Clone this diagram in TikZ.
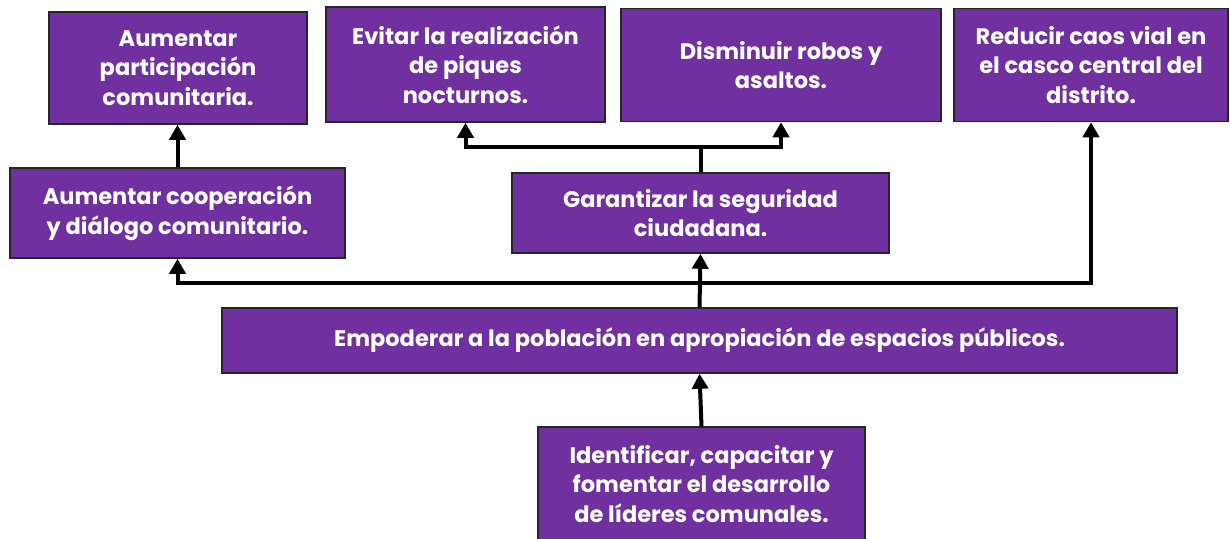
\documentclass[tikz,border=0pt]{standalone}
\usepackage{fontspec}
\setmainfont{Poppins}
\definecolor{colbox}{RGB}{112,48,160}
\usetikzlibrary{
	arrows.meta
}
\tikzset{
	>={Triangle[width=16pt,length=15pt]},
	goalnode/.style={draw=black!85, line width=1.5pt, fill=colbox, text=white, align=center, inner sep=0pt,
		font=\bfseries\fontsize{22.5}{29.5}\selectfont},
	goaledge/.style={->, line width=4pt}
}

\begin{document}
\begin{tikzpicture}[x=1pt, y=-1pt]
	\useasboundingbox (0,0) rectangle (1230,538);
	\node[goalnode, minimum width=258pt, minimum height=112pt] (partic) at (178,68) {Aumentar\\participación\\comunitaria.};
	\node[goalnode, minimum width=279pt, minimum height=115pt] (piques) at (465.5,64.5) {Evitar la realización\\de piques\\nocturnos.};
	\node[goalnode, minimum width=320pt, minimum height=113pt] (robos) at (781,65) {Disminuir robos y\\asaltos.};
	\node[goalnode, minimum width=274pt, minimum height=113pt] (caos) at (1091,65) {Reducir caos vial en\\el casco central del\\distrito.};
	\node[goalnode, minimum width=335pt, minimum height=90pt] (coop) at (177.5,213) {Aumentar cooperación\\y diálogo comunitario.};
	\node[goalnode, minimum width=377pt, minimum height=80pt] (segur) at (700.5,213) {Garantizar la seguridad\\ciudadana.};
	\node[goalnode, minimum width=955pt, minimum height=65pt] (empod) at (699.5,340.5) {Empoderar a la población en apropiación de espacios públicos.};
	\node[goalnode, minimum width=327pt, minimum height=114pt] (lider) at (701.5,484) {Identificar, capacitar y\\fomentar el desarrollo\\de líderes comunales.};

	\coordinate (segsplit) at (700.5,147);
	\coordinate (empsplit) at (699.5,283);

	\draw[goaledge] (coop.north) -- (coop.north |- partic.south);
	\draw[goaledge] (segur.north) -- (segsplit) -| (piques.south);
	\draw[goaledge] (segsplit) -| (robos.south);
	\draw[goaledge] (empod.north) -- (segur.south);
	\draw[goaledge] (empsplit) -| (coop.south);
	\draw[goaledge] (empsplit) -| (caos.south);
	\draw[goaledge] (lider.north) -- (empod.south);
\end{tikzpicture}
\end{document}
